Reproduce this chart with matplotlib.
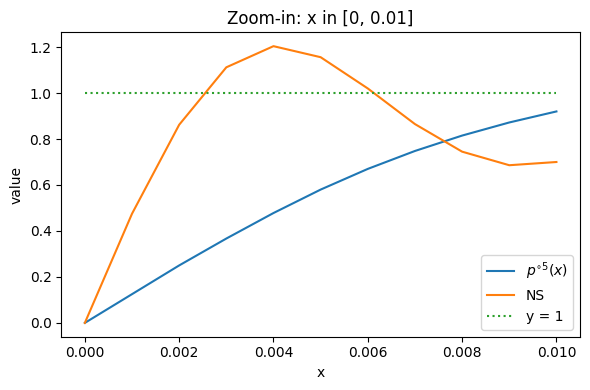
import numpy as np
import matplotlib.pyplot as plt

x = [0.0, 0.001, 0.002, 0.003, 0.004, 0.005, 0.006, 0.007, 0.008, 0.009, 0.010]
p5 = [0.0, 0.125, 0.250, 0.367, 0.478, 0.580, 0.670, 0.748, 0.815, 0.872, 0.920]
ns = [0.0, 0.475, 0.862, 1.112, 1.204, 1.156, 1.020, 0.865, 0.745, 0.686, 0.700]
ref = [1.0] * len(x)

fig, ax = plt.subplots(figsize=(6, 4), dpi=100)
ax.plot(x, p5, label=r"$p^{\circ 5}(x)$")
ax.plot(x, ns, label="NS")
ax.plot(x, ref, ":", label="y = 1")
ax.set_title("Zoom-in: x in [0, 0.01]")
ax.set_xlabel("x")
ax.set_ylabel("value")
ax.legend(loc="lower right")
fig.tight_layout()
fig.savefig("out.png", bbox_inches="tight")
